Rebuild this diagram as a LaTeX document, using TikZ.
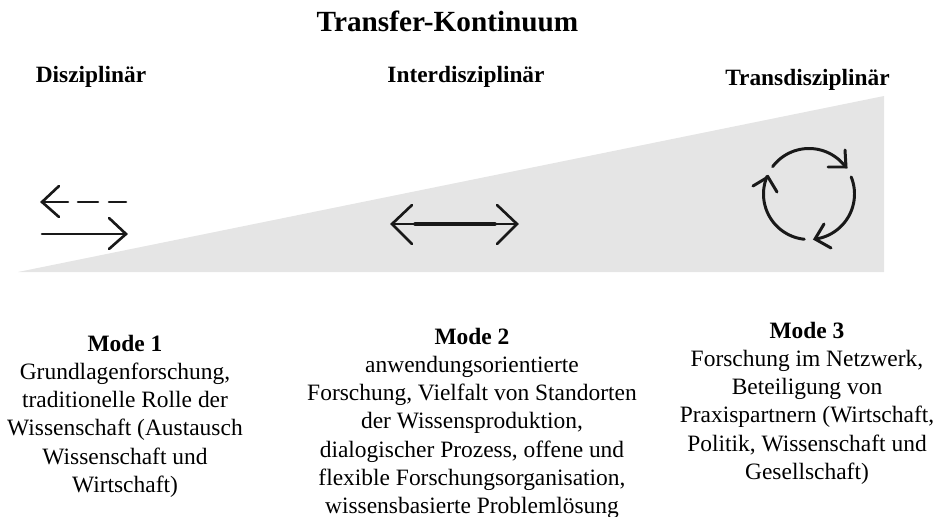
\documentclass[tikz,border=0pt]{standalone}
\usepackage{fontspec}
\setmainfont{Liberation Serif}
\tikzset{
  headtext/.style={font=\fontsize{13.3}{16}\selectfont\bfseries,inner sep=0pt,anchor=base},
  modetext/.style={font=\fontsize{13.35}{16}\selectfont,align=center,inner sep=0pt,anchor=north},
  icon/.style={black!90,line width=1.5pt,line cap=round,line join=miter}
}
\begin{document}
\begin{tikzpicture}[x=0.02cm,y=-0.02cm]
        \useasboundingbox (0,0) rectangle (940,517);
        \fill [black!10] (18,272) -- (884,272) -- (884,96) -- cycle;
        \node (title) [font=\fontsize{16.65}{20}\selectfont\bfseries,inner sep=0pt,anchor=base] at (447.5,32) {Transfer-Kontinuum};
        \node (disz) [headtext] at (91,83) {Disziplinär};
        \node (inter) [headtext] at (466,83) {Interdisziplinär};
        \node (trans) [headtext] at (807.5,86) {Transdisziplinär};
        \draw [icon] (59,186) -- (42,202) -- (59,217);
        \draw [icon] (42,202) -- (68,202) (78,202) -- (98,202) (109,202) -- (126,202);
        \draw [icon] (42,234) -- (126,234);
        \draw [icon] (109,218) -- (126,234) -- (109,249);
        \draw [icon] (412,205) -- (392,224) -- (412,244);
        \draw [icon] (497,205) -- (517,224) -- (497,244);
        \draw [icon] (392,224) -- (517,224);
        \draw [icon,line width=2pt] (415,224) -- (495,224);
        \draw [icon,line width=1.7pt,domain=36:143,samples=40] plot({809+45.5*cos(\x)},{194-45.5*sin(\x)});
        \draw [icon,line width=1.7pt] (845,150) -- (846,167) -- (828,167);
        \draw [icon,line width=1.7pt,domain=-82:22,samples=40] plot({809+45.5*cos(\x)},{194-45.5*sin(\x)});
        \draw [icon,line width=1.7pt] (824,224) -- (815,239) -- (831,248);
        \draw [icon,line width=1.7pt,domain=157:264,samples=40] plot({809+45.5*cos(\x)},{194-45.5*sin(\x)});
        \draw [icon,line width=1.7pt] (753,186) -- (768,177) -- (777,192);
        \node (mode1) [modetext] at (125,335) {\textbf{Mode 1}\\Grundlagenforschung,\\traditionelle Rolle der\\Wissenschaft (Austausch\\Wissenschaft und\\Wirtschaft)};
        \node (mode2) [modetext] at (472,328) {\textbf{Mode 2}\\anwendungsorientierte\\Forschung, Vielfalt von Standorten\\der Wissensproduktion,\\dialogischer Prozess, offene und\\flexible Forschungsorganisation,\\wissensbasierte Problemlösung};
        \node (mode3) [modetext] at (807,322) {\textbf{Mode 3}\\Forschung im Netzwerk,\\Beteiligung von\\Praxispartnern (Wirtschaft,\\Politik, Wissenschaft und\\Gesellschaft)};
\end{tikzpicture}
\end{document}
